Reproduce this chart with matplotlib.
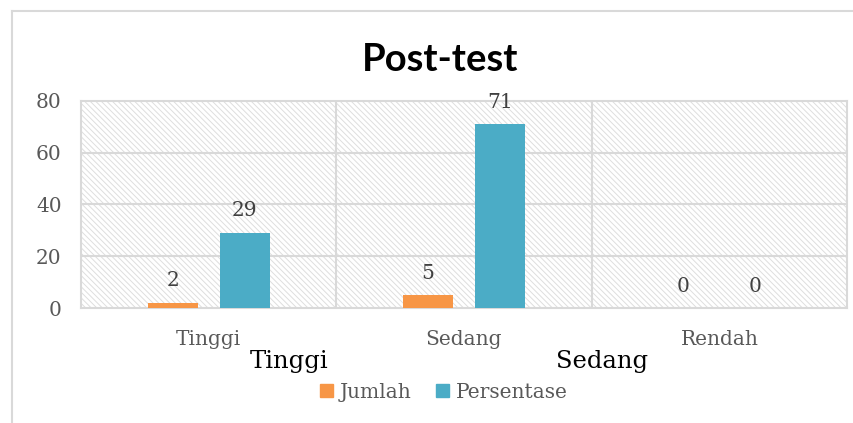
import numpy as np
import matplotlib.pyplot as plt
from matplotlib.patches import Rectangle, Patch
from matplotlib.lines import Line2D

# data
categories = ['Tinggi', 'Sedang', 'Rendah']
jumlah = [2, 5, 0]
persentase = [29, 71, 0]
series_names = ['Jumlah', 'Persentase']
y_ticks = [0, 20, 40, 60, 80]

orange = '#F79646'
teal = '#4BACC6'
grid_c = '#D9D9D9'
text_c = '#595959'
serif = 'DejaVu Serif'
fs = 14.5

fig = plt.figure(figsize=(8.54, 4.23), dpi=100)
ax = fig.add_axes([81 / 854, 1 - 308 / 423, (847 - 81) / 854, (308 - 101) / 423])

# outer chart border (left + top)
fig.add_artist(Line2D([12 / 854, 12 / 854], [0, 1 - 11 / 423], color=grid_c, lw=1.5))
fig.add_artist(Line2D([12 / 854, 1], [1 - 11 / 423, 1 - 11 / 423], color=grid_c, lw=1.5))

# hatched plot background
plt.rcParams['hatch.color'] = '#DEDEDE'
plt.rcParams['hatch.linewidth'] = 0.7
ax.add_patch(Rectangle((0, 0), 1, 1, transform=ax.transAxes, facecolor='white',
                       edgecolor='#DEDEDE', hatch='\\\\\\\\\\\\', lw=0, zorder=0))

x = np.arange(len(categories))
w = 0.196
off = 0.141
b1 = ax.bar(x - off, jumlah, w, color=orange, zorder=3, label=series_names[0])
b2 = ax.bar(x + off, persentase, w, color=teal, zorder=3, label=series_names[1])

for bars, vals in [(b1, jumlah), (b2, persentase)]:
    for r, v in zip(bars, vals):
        ax.annotate(str(v), (r.get_x() + r.get_width() / 2, v), xytext=(0, 9),
                    textcoords='offset points', ha='center', va='bottom',
                    fontsize=fs, family=serif, color='#404040', clip_on=False, zorder=4)

ax.set_xlim(-0.5, 2.5)
ax.set_ylim(0, 80)
ax.set_yticks(y_ticks)
ax.set_xticks(x)
ax.set_xticklabels(categories)
for lab in ax.get_xticklabels() + ax.get_yticklabels():
    lab.set_family(serif)
    lab.set_fontsize(fs)
    lab.set_color(text_c)
ax.tick_params(axis='x', length=0, pad=16)
ax.tick_params(axis='y', length=0, pad=14)

for yv in y_ticks[1:-1]:
    ax.axhline(yv, color=grid_c, lw=1.5, zorder=1)
for xv in [0.5, 1.5]:
    ax.axvline(xv, color=grid_c, lw=1.5, zorder=1)
for s in ax.spines.values():
    s.set_color(grid_c)
    s.set_linewidth(1.5)
ax.set_facecolor('white')

fig.text(440 / 854, 1 - 60 / 423, 'Post-test', ha='center', va='center',
         fontsize=27.5, fontweight='bold', family='Lato')

# stray labels under the axis
fig.text(289 / 854, 1 - 361 / 423, 'Tinggi', ha='center', va='center',
         fontsize=17.5, family=serif, color='black')
fig.text(602 / 854, 1 - 361 / 423, 'Sedang', ha='center', va='center',
         fontsize=17.5, family=serif, color='black')

handles = [Patch(color=orange), Patch(color=teal)]
fig.legend(handles, series_names, loc='center', bbox_to_anchor=(444 / 854, 1 - 392 / 423),
           ncol=2, frameon=False, handlelength=0.65, handleheight=0.65,
           handletextpad=0.35, columnspacing=1.2,
           prop={'family': serif, 'size': fs}, labelcolor=text_c)

fig.savefig('out.png', dpi=100)
